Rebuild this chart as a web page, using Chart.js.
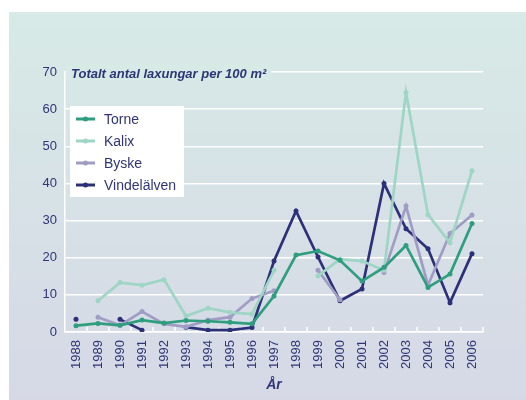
<!DOCTYPE html>
<html>
<head>
<meta charset="utf-8">
<script src="https://cdn.jsdelivr.net/npm/chart.js@4"></script>
<style>
  html, body { margin: 0; padding: 0; background: #fff; }
  #wrap { position: relative; width: 526px; height: 400px; }
</style>
</head>
<body>
<div id="wrap"><canvas id="chart" width="526" height="400"></canvas></div>
<script>
const years = ["1988", "1989", "1990", "1991", "1992", "1993", "1994", "1995", "1996", "1997",
  "1998", "1999", "2000", "2001", "2002", "2003", "2004", "2005", "2006"];
const torne = [1.7, 2.3, 1.8, 3.2, 2.4, 3.1, 2.9, 2.6, 2.2, 9.7, 20.7, 21.8, 19.3, 13.7, 17.4, 23.3, 12.0, 15.6, 29.2];
const kalix = [null, 8.4, 13.3, 12.6, 14.1, 4.3, 6.4, 5.3, 4.8, 16.6, null, 15.1, 19.6, 19.1, 16.6, 64.5, 31.6, 24.0, 43.4];
const byske = [null, 4.0, 1.8, 5.5, 2.2, 1.4, 3.2, 4.0, 9.0, 11.1, null, 16.6, 8.7, null, 16.0, 33.9, 12.6, 26.5, 31.5];
const vindel = [3.4, null, 3.4, 0.5, null, 1.3, 0.5, 0.5, 1.2, 19.1, 32.6, 20.2, 8.4, 11.6, 40.0, 27.8, 22.4, 7.9, 21.1];
const yTicks = [0, 10, 20, 30, 40, 50, 60, 70];

const navy = "#2f3577";
const font = "'Liberation Sans', Arial, sans-serif";

function series(label, data, color) {
  return {
    label,
    data,
    borderColor: color,
    backgroundColor: color,
    pointBackgroundColor: color,
    pointBorderColor: color,
    borderWidth: 2.7,
    pointRadius: 2.5,
    pointBorderWidth: 0,
    tension: 0,
    spanGaps: false,
  };
}

const panel = {
  id: "panel",
  beforeDraw(chart) {
    const ctx = chart.ctx;
    ctx.save();
    ctx.fillStyle = "#fff";
    ctx.fillRect(0, 0, chart.width, chart.height);
    const g = ctx.createLinearGradient(0, 12, 0, chart.height);
    g.addColorStop(0, "#d7eae6");
    g.addColorStop(1, "#d6d8e6");
    ctx.fillStyle = g;
    ctx.fillRect(9, 12, chart.width - 9, chart.height - 12);
    ctx.restore();
  },
  beforeDatasetsDraw(chart) {
    const ctx = chart.ctx;
    const x = chart.scales.x;
    const area = chart.chartArea;
    const step = x.getPixelForValue(1) - x.getPixelForValue(0);
    ctx.save();
    ctx.strokeStyle = "#fff";
    ctx.lineWidth = 1.5;
    for (let i = 1; i <= years.length; i++) {
      const px = Math.round(x.getPixelForValue(i) - step / 2);
      ctx.beginPath();
      ctx.moveTo(px, area.bottom);
      ctx.lineTo(px, area.bottom - 5);
      ctx.stroke();
    }
    // title sits over the top gridline
    ctx.font = "bold italic 13px " + font;
    const title = "Totalt antal laxungar per 100 m\u00b2";
    const w = ctx.measureText(title).width;
    ctx.fillStyle = "#d7eae6";
    ctx.fillRect(area.left + 1, area.top - 8, w + 10, 16);
    ctx.fillStyle = navy;
    ctx.textBaseline = "middle";
    ctx.fillText(title, area.left + 6, area.top + 2);
    ctx.restore();
  },
  afterDraw(chart) {
    const ctx = chart.ctx;
    ctx.save();
    ctx.fillStyle = "#fff";
    ctx.fillRect(70, 106, 114, 91);
    ctx.font = "14px " + font;
    ctx.textBaseline = "middle";
    chart.data.datasets.forEach((ds, i) => {
      const cy = 119 + i * 22;
      ctx.strokeStyle = ds.borderColor;
      ctx.lineWidth = 3;
      ctx.beginPath();
      ctx.moveTo(76, cy);
      ctx.lineTo(95, cy);
      ctx.stroke();
      ctx.fillStyle = ds.borderColor;
      ctx.beginPath();
      ctx.arc(85.5, cy, 2.5, 0, Math.PI * 2);
      ctx.fill();
      ctx.fillStyle = navy;
      ctx.fillText(ds.label, 104, cy + 1);
    });
    ctx.restore();
  },
};

new Chart(document.getElementById("chart"), {
  type: "line",
  data: {
    labels: years,
    datasets: [
      series("Torne", torne, "#2e9e7f"),
      series("Kalix", kalix, "#9fd5c4"),
      series("Byske", byske, "#a09dc5"),
      series("Vindelälven", vindel, "#2c3079"),
    ],
  },
  options: {
    responsive: false,
    animation: false,
    layout: { padding: { top: 72, right: 43, left: 0, bottom: 0 } },
    plugins: { legend: { display: false }, tooltip: { enabled: false } },
    scales: {
      x: {
        offset: true,
        grid: { display: false },
        border: { color: "#fff", width: 1.5 },
        ticks: {
          color: navy,
          font: { family: font, size: 13 },
          minRotation: 90,
          maxRotation: 90,
          padding: 0,
          autoSkip: false,
        },
        title: {
          display: true,
          text: "År",
          color: navy,
          font: { family: font, size: 14, weight: "bold", style: "italic" },
          padding: { top: 4, bottom: 6 },
        },
        afterFit(scale) { scale.height = 68; },
      },
      y: {
        min: 0,
        max: 70,
        afterBuildTicks(scale) { scale.ticks = yTicks.map(v => ({ value: v })); },
        grid: { color: "#fff", lineWidth: 1.5, drawTicks: false },
        border: { color: "#fff", width: 1.5 },
        ticks: {
          color: navy,
          font: { family: font, size: 13 },
          padding: 8,
        },
        afterFit(scale) { scale.width = 65; },
      },
    },
  },
  plugins: [panel],
});
</script>
</body>
</html>
